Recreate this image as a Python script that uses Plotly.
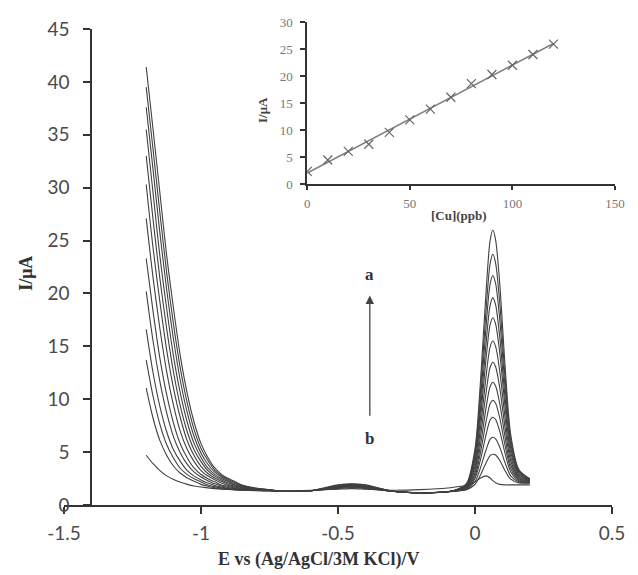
import plotly.graph_objects as go
import numpy as np

# Potential grid (V)
E_V = [-1.2, -1.175, -1.15, -1.125, -1.1, -1.075, -1.05, -1.025, -1.0, -0.975, -0.95, -0.925, -0.9, -0.875, -0.85, -0.8, -0.75,
       -0.7, -0.6, -0.5, -0.45, -0.4, -0.3, -0.2, -0.1,
       -0.06, -0.03, 0.0, 0.02, 0.04, 0.055, 0.065, 0.075, 0.09, 0.11, 0.13, 0.16, 0.2]

# Current traces (uA), from curve a (top) to curve b (bottom)
i_a = [41.4, 35.5, 29.5, 23.5, 18.5, 14.0, 10.5, 7.8, 5.8, 4.5, 3.5, 2.9, 2.5, 2.2, 1.9, 1.6, 1.45,
       1.3, 1.35, 1.9, 2.0, 1.9, 1.3, 1.15, 1.25,
       1.54, 2.08, 5.35, 11.75, 20.09, 25.02, 26.0, 25.07, 20.98, 12.97, 6.68, 3.36, 2.49]
i_02 = [39.5, 33.6, 27.6, 21.9, 17.0, 12.85, 9.6, 7.1, 5.35, 4.2, 3.3, 2.77, 2.4, 2.1, 1.85, 1.58, 1.44,
        1.3, 1.35, 1.85, 1.95, 1.85, 1.3, 1.15, 1.25,
        1.52, 2.01, 4.99, 10.78, 18.35, 22.82, 23.7, 22.87, 19.16, 11.92, 6.22, 3.23, 2.44]
i_03 = [37.6, 31.7, 25.7, 20.3, 15.6, 11.7, 8.7, 6.45, 4.9, 3.85, 3.1, 2.65, 2.3, 2.0, 1.8, 1.55, 1.43,
        1.3, 1.35, 1.85, 1.95, 1.85, 1.3, 1.15, 1.25,
        1.50, 1.95, 4.67, 9.94, 16.83, 20.90, 21.7, 20.95, 17.58, 11.00, 5.82, 3.11, 2.40]
i_04 = [35.5, 29.5, 23.5, 18.5, 14.0, 10.5, 7.8, 5.8, 4.5, 3.5, 2.9, 2.5, 2.2, 1.9, 1.75, 1.52, 1.42,
        1.3, 1.35, 1.8, 1.9, 1.8, 1.3, 1.15, 1.25,
        1.48, 1.89, 4.33, 9.06, 15.23, 18.88, 19.6, 18.93, 15.92, 10.03, 5.4, 2.98, 2.36]
i_05 = [33.0, 27.0, 21.4, 16.6, 12.5, 9.3, 6.9, 5.2, 4.1, 3.25, 2.73, 2.37, 2.07, 1.84, 1.69, 1.49, 1.41,
        1.3, 1.35, 1.8, 1.9, 1.8, 1.3, 1.15, 1.25,
        1.46, 1.83, 4.03, 8.26, 13.79, 17.06, 17.7, 17.11, 14.42, 9.16, 5.02, 2.87, 2.32]
i_06 = [30.3, 24.3, 19.2, 14.6, 11.0, 8.2, 6.05, 4.65, 3.65, 2.98, 2.56, 2.24, 1.94, 1.77, 1.62, 1.46, 1.4,
        1.3, 1.35, 1.75, 1.85, 1.75, 1.3, 1.15, 1.25,
        1.44, 1.77, 3.67, 7.34, 12.11, 14.94, 15.5, 14.99, 12.68, 8.14, 4.58, 2.73, 2.28]
i_07 = [27.1, 21.5, 16.66, 12.56, 9.38, 6.92, 5.24, 4.1, 3.26, 2.74, 2.38, 2.08, 1.84, 1.69, 1.57, 1.44, 1.39,
        1.3, 1.35, 1.75, 1.85, 1.75, 1.3, 1.15, 1.25,
        1.42, 1.71, 3.35, 6.50, 10.59, 13.02, 13.5, 13.07, 11.10, 7.22, 4.18, 2.61, 2.24]
i_08 = [23.3, 18.3, 13.86, 10.4, 7.7, 5.75, 4.45, 3.48, 2.88, 2.49, 2.19, 1.9, 1.75, 1.6, 1.52, 1.42, 1.37,
        1.3, 1.35, 1.7, 1.8, 1.7, 1.3, 1.15, 1.25,
        1.40, 1.65, 3.05, 5.70, 9.15, 11.2, 11.6, 11.25, 9.6, 6.35, 3.8, 2.5, 2.2]
i_09 = [20.2, 15.5, 11.66, 8.68, 6.41, 4.9, 3.84, 3.1, 2.64, 2.3, 2.0, 1.8, 1.65, 1.55, 1.47, 1.41, 1.36,
        1.3, 1.35, 1.65, 1.75, 1.65, 1.3, 1.15, 1.25,
        1.38, 1.60, 2.78, 4.99, 7.86, 9.57, 9.9, 9.62, 8.26, 5.57, 3.46, 2.40, 2.17]
i_10 = [16.6, 12.5, 9.3, 6.9, 5.2, 4.1, 3.25, 2.73, 2.37, 2.07, 1.84, 1.69, 1.57, 1.49, 1.44, 1.39, 1.35,
        1.3, 1.35, 1.65, 1.75, 1.65, 1.3, 1.15, 1.25,
        1.37, 1.55, 2.52, 4.31, 6.64, 8.03, 8.3, 8.08, 6.99, 4.83, 3.14, 2.30, 2.13]
i_11 = [13.7, 10.28, 7.62, 5.69, 4.42, 3.45, 2.87, 2.48, 2.18, 1.89, 1.74, 1.6, 1.52, 1.45, 1.42, 1.37, 1.34,
        1.3, 1.35, 1.6, 1.7, 1.6, 1.3, 1.15, 1.25,
        1.35, 1.49, 2.22, 3.52, 5.20, 6.21, 6.4, 6.26, 5.49, 3.96, 2.76, 2.19, 2.10]
i_12 = [11.04, 8.2, 6.09, 4.69, 3.66, 3.0, 2.56, 2.25, 1.95, 1.77, 1.62, 1.53, 1.46, 1.42, 1.4, 1.35, 1.33,
        1.3, 1.35, 1.55, 1.65, 1.55, 1.3, 1.15, 1.25,
        1.33, 1.45, 1.96, 2.84, 3.98, 4.67, 4.8, 4.72, 4.23, 3.22, 2.44, 2.09, 2.06]
i_b = [4.7, 3.9, 3.25, 2.75, 2.4, 2.15, 1.95, 1.8, 1.7, 1.62, 1.55, 1.5, 1.47, 1.45, 1.43, 1.4, 1.38,
       1.35, 1.4, 1.5, 1.55, 1.5, 1.4, 1.45, 1.6,
       1.75, 1.85, 2.2, 2.55, 2.75, 2.55, 2.3, 2.1, 1.95, 1.9, 1.9, 1.9, 1.9]

curves = [i_a, i_02, i_03, i_04, i_05, i_06, i_07, i_08, i_09, i_10, i_11, i_12, i_b]

# Inset calibration data
cu_ppb = [0, 10, 20, 30, 40, 50, 60, 70, 80, 90, 100, 110, 120]
peak_uA = [2.4, 4.5, 6.1, 7.4, 9.6, 11.9, 13.9, 16.1, 18.6, 20.3, 22.0, 24.0, 25.9]

main_ticks_x = [-1.5, -1, -0.5, 0, 0.5]
main_ticks_y = [0, 5, 10, 15, 20, 25, 30, 35, 40, 45]

fig = go.Figure()
for c in curves:
    fig.add_trace(go.Scatter(x=E_V, y=c, mode="lines",
                             line=dict(color="#404040", width=1.1, shape="spline", smoothing=0.8),
                             xaxis="x", yaxis="y", hoverinfo="skip"))

slope, icpt = np.polyfit(cu_ppb, peak_uA, 1)
fit_x = [cu_ppb[0], cu_ppb[-1]]
fig.add_trace(go.Scatter(x=fit_x, y=[icpt + slope * v for v in fit_x], mode="lines",
                         line=dict(color="#808080", width=1.5), xaxis="x2", yaxis="y2"))
fig.add_trace(go.Scatter(x=cu_ppb, y=peak_uA, mode="markers",
                         marker=dict(symbol="x-thin-open", size=9, color="#666666",
                                     line=dict(color="#666666", width=1.2)),
                         xaxis="x2", yaxis="y2"))

W, H = 638, 575
ml, mr, mt, mb = 64, 10, 20, 70
pw, ph = W - ml - mr, H - mt - mb

def px(xp):
    return (xp - ml) / pw

def py(yp):
    return (H - mb - yp) / ph

tick_font = dict(family="Lato, Noto Sans, sans-serif", size=19, color="#4a4a4a")
inset_font = dict(family="Liberation Serif, Times New Roman, serif", size=13, color="#777777")

fig.update_layout(
    width=W, height=H, margin=dict(l=ml, r=mr, t=mt, b=mb),
    paper_bgcolor="white", plot_bgcolor="rgba(0,0,0,0)", showlegend=False,
    xaxis=dict(domain=[0, px(625)], range=[-1.5, 0.5], tickvals=main_ticks_x,
               ticktext=["-1.5", "-1", "-0.5", "0", "0.5"],
               showgrid=False, zeroline=False, showline=True, linecolor="#333333", linewidth=2,
               ticks="outside", ticklen=7, tickwidth=2, tickcolor="#333333",
               tickfont=tick_font, ticklabelstandoff=3, anchor="y"),
    yaxis=dict(domain=[0, py(27)], range=[0, 45], tickvals=main_ticks_y,
               showgrid=False, zeroline=False, showline=True, linecolor="#333333", linewidth=2,
               ticks="outside", ticklen=7, tickwidth=2, tickcolor="#333333",
               tickfont=tick_font, ticklabelstandoff=10, anchor="free", position=px(92)),
    xaxis2=dict(domain=[px(313), 1.0], range=[0, 150], tickvals=[0, 50, 100, 150],
                showgrid=False, zeroline=False, showline=True, linecolor="#333333", linewidth=2,
                ticks="outside", ticklen=4, tickwidth=1.5, tickcolor="#333333",
                tickfont=inset_font, ticklabelstandoff=2, anchor="y2"),
    yaxis2=dict(domain=[py(183), 1.0], range=[0, 30], tickvals=[0, 5, 10, 15, 20, 25, 30],
                showgrid=False, zeroline=False, showline=True, linecolor="#333333", linewidth=2,
                ticks="outside", ticklen=5, tickwidth=1.5, tickcolor="#333333",
                tickfont=inset_font, ticklabelstandoff=5, anchor="x2"),
)

title_font = dict(family="Liberation Serif, Times New Roman, serif", size=18, color="#333333")
small_title = dict(family="Liberation Serif, serif", size=13, color="#444444")
ann = [
    dict(text="<b>I/μA</b>", x=px(25), y=py(272), xref="paper", yref="paper", textangle=-90,
         xanchor="center", yanchor="middle", showarrow=False, font=title_font),
    dict(text="<b>E vs (Ag/AgCl/3M KCl)/V</b>", x=px(325), y=py(560), xref="paper", yref="paper",
         xanchor="center", yanchor="middle", showarrow=False, font=title_font),
    dict(text="<b>I/μA</b>", x=px(267), y=py(108), xref="paper", yref="paper", textangle=-90,
         xanchor="center", yanchor="middle", showarrow=False, font=small_title),
    dict(text="<b>[Cu](ppb)</b>", x=px(468), y=py(214), xref="paper", yref="paper",
         xanchor="center", yanchor="middle", showarrow=False, font=small_title),
    dict(text="<b>a</b>", x=-0.384, y=21.8, xref="x", yref="y", showarrow=False,
         xanchor="center", yanchor="middle",
         font=dict(family="Liberation Serif, serif", size=17, color="#333333")),
    dict(text="<b>b</b>", x=-0.384, y=6.3, xref="x", yref="y", showarrow=False,
         xanchor="center", yanchor="middle",
         font=dict(family="Liberation Serif, serif", size=17, color="#333333")),
    dict(text="", x=-0.384, y=19.8, ax=-0.384, ay=8.3, xref="x", yref="y", axref="x", ayref="y",
         showarrow=True, arrowhead=2, arrowsize=1.3, arrowwidth=1.3, arrowcolor="#444444"),
]
fig.update_layout(annotations=ann)

fig.write_html("out.html")
